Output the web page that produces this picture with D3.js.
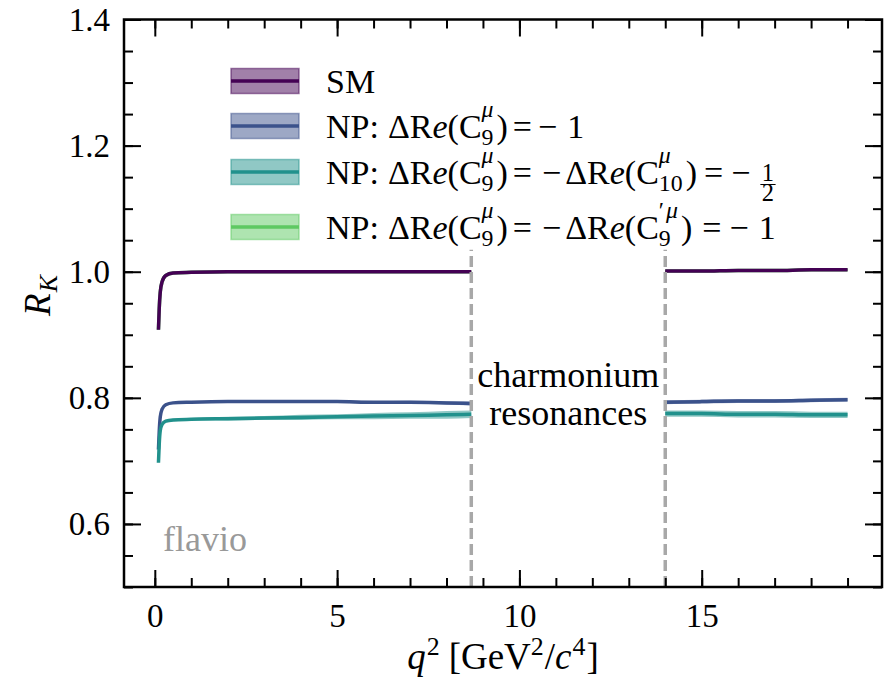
<!DOCTYPE html>
<html>
<head>
<meta charset="utf-8">
<script src="https://cdn.jsdelivr.net/npm/d3@7"></script>
<style>
  body { margin: 0; background: #fff; }
  text { font-family: "Liberation Serif", "Times New Roman", serif; }
</style>
</head>
<body>
<svg id="chart" width="894" height="678"></svg>
<script>
// q² sampling points (GeV²/c⁴) below and above the charmonium window
const qLow  = [0.1, 0.12, 0.15, 0.2, 0.3, 0.5, 1, 2, 3, 4, 5, 6, 7, 8, 8.68];
const qHigh = [14, 15, 16, 17, 18, 19];

// Standard Model prediction
const smLow   = [0.908, 0.940, 0.968, 0.984, 0.994, 0.998, 0.999, 1.000, 1.000, 1.000, 1.000, 1.000, 1.000, 1.000, 1.000];
const smHigh  = [1.001, 1.001, 1.002, 1.002, 1.003, 1.003];
const smErrLow  = [0.001, 0.001, 0.001, 0.001, 0.001, 0.001, 0.001, 0.001, 0.001, 0.001, 0.001, 0.001, 0.001, 0.001, 0.001];
const smErrHigh = [0.001, 0.001, 0.001, 0.001, 0.001, 0.001];

// NP: ΔRe(C9) = -1
const c9Low   = [0.718, 0.745, 0.770, 0.782, 0.789, 0.792, 0.793, 0.794, 0.794, 0.794, 0.794, 0.793, 0.793, 0.792, 0.791];
const c9High  = [0.793, 0.794, 0.795, 0.795, 0.796, 0.797];
const c9ErrLow  = [0.001, 0.001, 0.001, 0.001, 0.001, 0.001, 0.001, 0.0015, 0.0015, 0.002, 0.002, 0.002, 0.0025, 0.0025, 0.003];
const c9ErrHigh = [0.003, 0.003, 0.003, 0.003, 0.003, 0.003];

// NP: ΔRe(C9) = -ΔRe(C10) = -1/2
const c910Low  = [0.697, 0.725, 0.748, 0.758, 0.763, 0.765, 0.766, 0.767, 0.768, 0.769, 0.770, 0.771, 0.772, 0.773, 0.774];
const c910High = [0.775, 0.775, 0.774, 0.774, 0.773, 0.773];
const c910ErrLow  = [0.002, 0.002, 0.002, 0.002, 0.002, 0.002, 0.002, 0.003, 0.003, 0.004, 0.004, 0.005, 0.005, 0.006, 0.006];
const c910ErrHigh = [0.005, 0.005, 0.005, 0.005, 0.005, 0.005];

// NP: ΔRe(C9) = -ΔRe(C9') = -1  (coincides with the SM curve)
const c9pLow  = [0.908, 0.940, 0.968, 0.984, 0.994, 0.998, 0.999, 1.000, 1.000, 1.000, 1.000, 1.000, 1.000, 1.000, 1.000];
const c9pHigh = [1.001, 1.001, 1.002, 1.002, 1.003, 1.003];
const c9pErrLow  = [0.001, 0.001, 0.001, 0.001, 0.001, 0.001, 0.001, 0.001, 0.001, 0.001, 0.001, 0.001, 0.001, 0.001, 0.001];
const c9pErrHigh = [0.001, 0.001, 0.001, 0.001, 0.001, 0.001];

// charmonium veto boundaries
const vetoLines = [8.68, 14.0];

const xMajorTicks = [0, 5, 10, 15];
const xMinorTicks = d3.range(0, 20, 1);
const yMajorTicks = [0.6, 0.8, 1.0, 1.2, 1.4];
const yMinorTicks = d3.range(0.5, 1.4001, 0.05).map(v => +v.toFixed(2));

const colors = { sm: "#440154", c9: "#3b528b", c910: "#21918c", c9p: "#5ec962" };

const svg = d3.select("#chart");
const L = 124, R = 882, T = 19.5, B = 587;

const x = d3.scaleLinear().domain([-0.845, 19.945]).range([L, R]);
const y = d3.scaleLinear().domain([0.5, 1.4]).range([B, T]);

const plot = svg.append("g");

const series = [
  { key: "c9p",  color: colors.c9p,  low: c9pLow,  high: c9pHigh,  eLow: c9pErrLow,  eHigh: c9pErrHigh },
  { key: "sm",   color: colors.sm,   low: smLow,   high: smHigh,   eLow: smErrLow,   eHigh: smErrHigh },
  { key: "c9",   color: colors.c9,   low: c9Low,   high: c9High,   eLow: c9ErrLow,   eHigh: c9ErrHigh },
  { key: "c910", color: colors.c910, low: c910Low, high: c910High, eLow: c910ErrLow, eHigh: c910ErrHigh }
];

const line = d3.line().x(d => x(d.q)).y(d => y(d.v)).curve(d3.curveMonotoneX);
const area = d3.area().x(d => x(d.q)).y0(d => y(d.v - d.e)).y1(d => y(d.v + d.e)).curve(d3.curveMonotoneX);

series.forEach(s => {
  const segs = [
    qLow.map((q, i) => ({ q, v: s.low[i], e: s.eLow[i] })),
    qHigh.map((q, i) => ({ q, v: s.high[i], e: s.eHigh[i] }))
  ];
  segs.forEach(seg => {
    plot.append("path").datum(seg).attr("d", area)
      .attr("fill", s.color).attr("fill-opacity", 0.5).attr("stroke", "none");
    plot.append("path").datum(seg).attr("d", line)
      .attr("fill", "none").attr("stroke", s.color).attr("stroke-width", 3.5)
      .attr("stroke-linejoin", "round");
  });
});

// dashed lines bounding the charmonium region
plot.selectAll("line.veto").data(vetoLines).enter().append("line")
  .attr("class", "veto")
  .attr("x1", d => x(d)).attr("x2", d => x(d))
  .attr("y1", y(0.5)).attr("y2", y(1.035))
  .attr("stroke", "#a8a8a8").attr("stroke-width", 3.5).attr("stroke-dasharray", "11,5");

// annotations
const ann = svg.append("g");
const midVeto = x((vetoLines[0] + vetoLines[1]) / 2);
ann.append("text").attr("x", midVeto).attr("y", 387).attr("text-anchor", "middle")
  .attr("font-size", 36).attr("fill", "#000").text("charmonium");
ann.append("text").attr("x", midVeto).attr("y", 425).attr("text-anchor", "middle")
  .attr("font-size", 36).attr("fill", "#000").text("resonances");
ann.append("text").attr("x", 163).attr("y", 551).attr("font-size", 36)
  .attr("fill", "#999999").text("flavio");

// axes with inward ticks on all four sides
function styleAxis(g) {
  g.select(".domain").remove();
  g.selectAll(".tick line").attr("stroke", "#000").attr("stroke-width", 2);
  g.selectAll(".tick text").attr("font-size", 33).attr("fill", "#000");
}
const fmtY = d3.format(".1f");

svg.append("g").attr("transform", `translate(0,${B})`)
  .call(d3.axisBottom(x).tickValues(xMinorTicks).tickSize(-9).tickFormat(""))
  .call(styleAxis);
svg.append("g").attr("transform", `translate(0,${B})`)
  .call(d3.axisBottom(x).tickValues(xMajorTicks).tickSize(-17).tickPadding(17).tickFormat(d3.format("d")))
  .call(styleAxis);
svg.append("g").attr("transform", `translate(0,${T})`)
  .call(d3.axisTop(x).tickValues(xMinorTicks).tickSize(-9).tickFormat(""))
  .call(styleAxis);
svg.append("g").attr("transform", `translate(0,${T})`)
  .call(d3.axisTop(x).tickValues(xMajorTicks).tickSize(-17).tickFormat(""))
  .call(styleAxis);

svg.append("g").attr("transform", `translate(${L},0)`)
  .call(d3.axisLeft(y).tickValues(yMinorTicks).tickSize(-9).tickFormat(""))
  .call(styleAxis);
svg.append("g").attr("transform", `translate(${L},0)`)
  .call(d3.axisLeft(y).tickValues(yMajorTicks).tickSize(-17).tickPadding(14).tickFormat(fmtY))
  .call(styleAxis);
svg.append("g").attr("transform", `translate(${R},0)`)
  .call(d3.axisRight(y).tickValues(yMinorTicks).tickSize(-9).tickFormat(""))
  .call(styleAxis);
svg.append("g").attr("transform", `translate(${R},0)`)
  .call(d3.axisRight(y).tickValues(yMajorTicks).tickSize(-17).tickFormat(""))
  .call(styleAxis);

svg.append("rect").attr("x", L).attr("y", T).attr("width", R - L).attr("height", B - T)
  .attr("fill", "none").attr("stroke", "#000").attr("stroke-width", 2.5);

// simple math-like text layout: runs of text, sub/superscript stacks, fractions
function drawMath(g, x0, y0, items, fs, opts = {}) {
  let cx = x0;
  const sfs = fs * (opts.scriptScale || 0.7);
  const supUp = fs * (opts.supUp || 0.63);
  const subDown = fs * (opts.subDown || 0.22);
  const scriptSpace = opts.scriptSpace !== undefined ? opts.scriptSpace : 1;
  items.forEach(it => {
    if (it.gap !== undefined) { cx += it.gap; return; }
    if (it.t !== undefined) {
      const t = g.append("text").attr("x", cx).attr("y", y0).attr("font-size", fs)
        .attr("font-style", it.it ? "italic" : "normal").text(it.t);
      cx += t.node().getComputedTextLength();
      return;
    }
    if (it.frac) {
      const ffs = fs * 0.72;
      const n = g.append("text").attr("y", y0 - 3).attr("font-size", ffs).text(it.frac[0]);
      const d = g.append("text").attr("y", y0 + 17).attr("font-size", ffs).text(it.frac[1]);
      const wn = n.node().getComputedTextLength(), wd = d.node().getComputedTextLength();
      const w = Math.max(wn, wd) + 5;
      n.attr("x", cx + (w - wn) / 2);
      d.attr("x", cx + (w - wd) / 2);
      g.append("line").attr("x1", cx + 1).attr("x2", cx + w - 1).attr("y1", y0 + 0.5).attr("y2", y0 + 0.5)
        .attr("stroke", "#000").attr("stroke-width", 1);
      cx += w;
      return;
    }
    // stacked super/subscript; a superscript may be a list of [text, italic, gapAfter]
    let w = 0;
    if (it.sup !== undefined) {
      let sx = cx;
      const parts = Array.isArray(it.sup) ? it.sup : [[it.sup, !!it.supIt, 0]];
      parts.forEach(([s, ital, gp]) => {
        const t = g.append("text").attr("x", sx).attr("y", y0 - supUp).attr("font-size", sfs)
          .attr("font-style", ital ? "italic" : "normal").text(s);
        sx += t.node().getComputedTextLength() + (gp || 0);
      });
      w = Math.max(w, sx - cx);
    }
    if (it.sub !== undefined) {
      const t = g.append("text").attr("x", cx).attr("y", y0 + subDown).attr("font-size", sfs)
        .attr("font-style", it.subIt ? "italic" : "normal").text(it.sub);
      w = Math.max(w, t.node().getComputedTextLength());
    }
    cx += w + scriptSpace;
  });
  return cx;
}

// legend
const legendFS = 34;
const c9Term = [{ t: "ΔR" }, { t: "e", it: true }, { t: "(C" }, { sup: "μ", sub: "9", supIt: true }, { t: ")" }];
const legendItems = [
  { color: colors.sm,   cy: 81,  label: [{ t: "SM" }] },
  { color: colors.c9,   cy: 126, label: [{ t: "NP:" }, { gap: 9 }].concat(c9Term, [
      { gap: 5 }, { t: "=" }, { gap: 6 }, { t: "−" }, { gap: 10 }, { t: "1" }]) },
  { color: colors.c910, cy: 172, label: [{ t: "NP:" }, { gap: 9 }].concat(c9Term, [
      { gap: 5 }, { t: "=" }, { gap: 10 }, { t: "−" }, { gap: 4 },
      { t: "ΔR" }, { t: "e", it: true }, { t: "(C" }, { sup: "μ", sub: "10", supIt: true }, { t: ")" },
      { gap: 7 }, { t: "=" }, { gap: 8 }, { t: "−" }, { gap: 9 }, { frac: ["1", "2"] }]) },
  { color: colors.c9p,  cy: 227, label: [{ t: "NP:" }, { gap: 9 }].concat(c9Term, [
      { gap: 5 }, { t: "=" }, { gap: 10 }, { t: "−" }, { gap: 4 },
      { t: "ΔR" }, { t: "e", it: true }, { t: "(C" }, { sup: [["′", false, 2], ["μ", true, 0]], sub: "9" }, { t: ")" },
      { gap: 10 }, { t: "=" }, { gap: 8 }, { t: "−" }, { gap: 10 }, { t: "1" }]) }
];

const legend = svg.append("g");
legendItems.forEach(d => {
  legend.append("rect").attr("x", 231).attr("y", d.cy - 12.5).attr("width", 68).attr("height", 25)
    .attr("fill", d.color).attr("fill-opacity", 0.5)
    .attr("stroke", d.color).attr("stroke-opacity", 0.5).attr("stroke-width", 1.5);
  legend.append("line").attr("x1", 231).attr("x2", 299).attr("y1", d.cy).attr("y2", d.cy)
    .attr("stroke", d.color).attr("stroke-width", 3.5);
  drawMath(legend.append("g"), 326, d.cy + 12, d.label, legendFS, { scriptSpace: 3 });
});

// axis titles
const xl = svg.append("g");
const xEnd = drawMath(xl, 0, 669, [
  { t: "q", it: true }, { gap: 1 }, { sup: "2" }, { gap: 8 }, { t: "[GeV" }, { sup: "2" }, { t: "/" },
  { t: "c", it: true }, { gap: 1 }, { sup: "4" }, { t: "]" }
], 37, { supUp: 0.38 });
xl.attr("transform", `translate(${(L + R) / 2 - xEnd / 2},0)`);

const yl = svg.append("g").attr("transform", `translate(50,295) rotate(-90)`);
const yEnd = drawMath(yl, 0, 0, [{ t: "R", it: true }, { gap: 1 }, { sub: "K", subIt: true }], 37, { subDown: 0.2 });
yl.selectAll("text").attr("transform", `translate(${-yEnd / 2},0)`);
</script>
</body>
</html>
